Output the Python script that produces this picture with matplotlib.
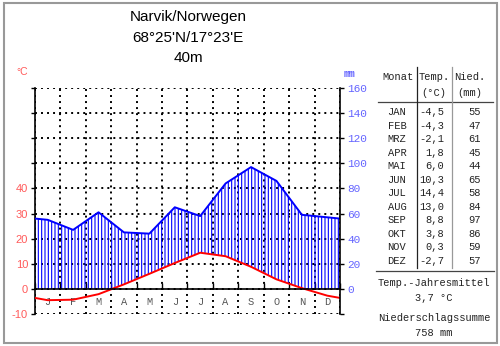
import numpy as np
import matplotlib
matplotlib.use("Agg")
import matplotlib.pyplot as plt
from matplotlib.patches import Rectangle

# ---- data ----
months_de = ["JAN", "FEB", "MRZ", "APR", "MAI", "JUN", "JUL", "AUG", "SEP", "OKT", "NOV", "DEZ"]
month_letters = ["J", "F", "M", "A", "M", "J", "J", "A", "S", "O", "N", "D"]
temp = [-4.5, -4.3, -2.1, 1.8, 6.0, 10.3, 14.4, 13.0, 8.8, 3.8, 0.3, -2.7]
prec = [55, 47, 61, 45, 44, 65, 58, 84, 97, 86, 59, 57]
temp_mean = "3,7 °C"
prec_sum = "758 mm"
title_lines = ["Narvik/Norwegen", "68°25'N/17°23'E", "40m"]

plt.rcParams['hatch.linewidth'] = 0.8
RED = "#ff5a5a"
BLUE = "#6464ff"

# cyclic closure at the diagram edges (Dec/Jan mean)
t_arr = np.array(temp)
p_arr = np.array(prec)
t_edge = (t_arr[0] + t_arr[-1]) / 2
p_edge = (p_arr[0] + p_arr[-1]) / 2
x = np.concatenate([[0], np.arange(12) + 0.5, [12]])
t_line = np.concatenate([[t_edge], t_arr, [t_edge]])
p_line = np.concatenate([[p_edge], p_arr, [p_edge]])

fig = plt.figure(figsize=(5, 3.46), dpi=100)
ax = fig.add_axes([0.07, 0.0925, 0.61, 0.6532])
ax2 = ax.twinx()

ax.set_xlim(0, 12)
ax.set_ylim(-10, 80)
ax2.set_ylim(-20, 160)

# humid period hatching, clipped at 0 line
fb = ax.fill_between(x, p_line / 2, t_line, hatch='|||||', facecolor='none',
                     edgecolor='blue', linewidth=0, zorder=2)
clip = Rectangle((0, 0), 12, 100, transform=ax.transData)
fb.set_clip_path(clip)

ax.plot(x, p_line / 2, color='blue', lw=1.4, zorder=4)
ax.plot(x, t_line, color='red', lw=1.4, zorder=4)

# grid
dots = (0, (1, 2.1))
ax.set_xticks(np.arange(0, 13))
ax.set_yticks(np.arange(-10, 81, 10))
ax.grid(True, color='k', linestyle=dots, linewidth=1.4, zorder=1)
ax.set_axisbelow(True)

ax.spines['top'].set_visible(False)
ax.spines['right'].set_visible(False)
ax.spines['bottom'].set_position(('data', 0))
ax.spines['bottom'].set_linewidth(1.2)
ax.spines['left'].set_linewidth(1.2)
ax.spines['bottom'].set_zorder(5)

ax.tick_params(axis='x', which='major', direction='in', length=4, width=1.0,
               labelbottom=False)
ax.set_xticks(np.arange(12) + 0.5, minor=True)
ax.set_xticklabels(month_letters, minor=True, fontfamily='Liberation Mono',
                   fontsize=7.5, color='#555555')
ax.tick_params(axis='x', which='minor', length=0, pad=5.5)

ax.set_yticklabels([str(v) if v <= 40 else "" for v in range(-10, 81, 10)],
                   fontfamily='Liberation Sans', fontsize=8, color=RED)
ax.tick_params(axis='y', direction='out', length=3, width=1.0, pad=2)

for s in ['top', 'bottom', 'left']:
    ax2.spines[s].set_visible(False)
ax2.spines['right'].set_linewidth(1.2)
ax2.set_yticks(np.arange(-20, 161, 20))
ax2.set_yticklabels([str(v) if v >= 0 else "" for v in range(-20, 161, 20)],
                    fontfamily='Liberation Mono', fontsize=8, color=BLUE)
ax2.tick_params(axis='y', direction='out', length=3, width=1.0, pad=2)

fig.text(22 / 500, 1 - 72 / 346, "°C", color=RED, fontsize=7.5,
         fontfamily='Liberation Sans', ha='center', va='center')
fig.text(350 / 500, 1 - 74 / 346, "mm", color=BLUE, fontsize=7,
         fontfamily='Liberation Mono', fontweight='bold', ha='center', va='center')

for i, line in enumerate(title_lines):
    fig.text(188 / 500, 1 - (17 + 20.5 * i) / 346, line, fontsize=11,
             fontfamily='Liberation Sans', ha='center', va='center')

# ---- table ----
def fx(px):
    return px / 500

def fy(py):
    return 1 - py / 346

tf = dict(fontfamily='Liberation Mono', fontsize=7.5, color='#222222', va='center')
fig.text(fx(398), fy(77), "Monat", ha='center', **tf)
fig.text(fx(434), fy(77), "Temp.", ha='center', **tf)
fig.text(fx(434), fy(93), "(°C)", ha='center', **tf)
fig.text(fx(470), fy(77), "Nied.", ha='center', **tf)
fig.text(fx(470), fy(93), "(mm)", ha='center', **tf)

row0, dy = 112, 13.55
for i, (m, t, p) in enumerate(zip(months_de, temp, prec)):
    yy = fy(row0 + i * dy)
    fig.text(fx(397), yy, m, ha='center', **tf)
    fig.text(fx(444), yy, f"{t:.1f}".replace('.', ','), ha='right', **tf)
    fig.text(fx(481), yy, str(p), ha='right', **tf)

fig.add_artist(plt.Line2D([fx(378), fx(493)], [fy(102), fy(102)], color='#444444', lw=0.9))
fig.add_artist(plt.Line2D([fx(376), fx(494)], [fy(271), fy(271)], color='#444444', lw=0.9))
fig.add_artist(plt.Line2D([fx(417), fx(417)], [fy(67), fy(268)], color='#222222', lw=0.9))
fig.add_artist(plt.Line2D([fx(452), fx(452)], [fy(67), fy(268)], color='#999999', lw=0.9))

fig.text(fx(434), fy(283), "Temp.-Jahresmittel", ha='center', **tf)
fig.text(fx(434), fy(298), temp_mean, ha='center', **tf)
fig.text(fx(434), fy(318), "Niederschlagssumme", ha='center', **tf)
fig.text(fx(434), fy(333), prec_sum, ha='center', **tf)

# outer frame
fig.add_artist(Rectangle((fx(3.5), fy(343)), fx(493.5), 340 / 346, transform=fig.transFigure,
                         fill=False, edgecolor='#999999', lw=1.5))

fig.savefig("out.png", dpi=100)
